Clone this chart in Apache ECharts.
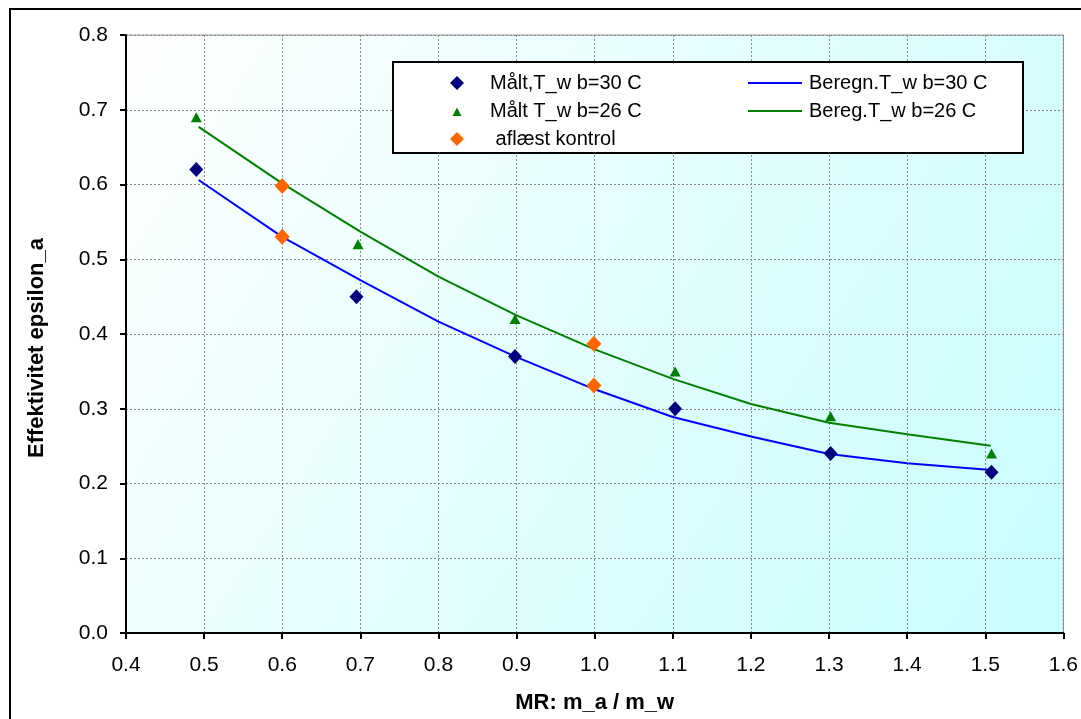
<!DOCTYPE html>
<html>
<head>
<meta charset="utf-8">
<script src="https://cdn.jsdelivr.net/npm/echarts@6/dist/echarts.min.js"></script>
<style>html,body{margin:0;padding:0;background:#fff;}#c{width:1081px;height:719px;}</style>
</head>
<body>
<div id="c"></div>
<script>
// Measured points
const maalt30 = [[0.49,0.62],[0.695,0.45],[0.898,0.37],[1.103,0.30],[1.302,0.24],[1.508,0.215]];
const maalt26 = [[0.49,0.69],[0.697,0.52],[0.898,0.42],[1.103,0.35],[1.302,0.29],[1.508,0.24]];
const aflaest = [[0.6,0.598],[0.6,0.53],[0.999,0.387],[0.999,0.331]];
// Calculated curves
const beregn30 = [[0.493,0.606],[0.6,0.530],[0.7,0.472],[0.8,0.4165],[0.9,0.369],[1.0,0.326],[1.1,0.289],[1.2,0.263],[1.3,0.2395],[1.4,0.227],[1.507,0.218]];
const bereg26 = [[0.493,0.677],[0.6,0.6016],[0.7,0.537],[0.8,0.4767],[0.9,0.425],[1.0,0.3795],[1.1,0.340],[1.2,0.3063],[1.3,0.2814],[1.4,0.2658],[1.507,0.2506]];
const seriesNames = ['Målt,T_w b=30 C','Målt T_w b=26 C',' aflæst kontrol','Beregn.T_w b=30 C','Bereg.T_w b=26 C'];

const FONT = 'Liberation Sans, Arial, sans-serif';
const chart = echarts.init(document.getElementById('c'), null, {renderer:'canvas'});
const legendText = {fontFamily: FONT, fontSize: 20, color:'#000', lineHeight: 20};
chart.setOption({
  animation: false,
  backgroundColor: '#ffffff',
  grid: {
    left: 126, top: 35, right: 16, bottom: 86,
    show: true,
    backgroundColor: {type:'linear', x:0, y:0, x2:1, y2:1,
      colorStops:[{offset:0,color:'#ffffff'},{offset:1,color:'#c8fdfd'}]},
    borderColor: '#909090', borderWidth: 1
  },
  xAxis: {
    type: 'value', min: 0.4, max: 1.6, interval: 0.1,
    name: 'MR: m_a / m_w', nameLocation: 'middle', nameGap: 59,
    nameTextStyle: {fontFamily: FONT, fontSize: 22, fontWeight: 'bold', color:'#000'},
    axisLine: {show: true, onZero: false, lineStyle: {color:'#000', width: 2}},
    axisTick: {show: true, length: 6, lineStyle: {color:'#000', width: 2}},
    axisLabel: {fontFamily: FONT, fontSize: 21, color:'#000', margin: 22,
      formatter: v => v.toFixed(1)},
    splitLine: {show: true, lineStyle: {color:'#888', type:[2,2], width:1}}
  },
  yAxis: {
    type: 'value', min: 0, max: 0.8, interval: 0.1,
    name: 'Effektivitet epsilon_a', nameLocation: 'middle', nameGap: 78,
    nameTextStyle: {fontFamily: FONT, fontSize: 22, fontWeight: 'bold', color:'#000', padding:[0,28,0,0]},
    axisLine: {show: true, onZero: false, lineStyle: {color:'#000', width: 2}},
    axisTick: {show: true, length: 6, lineStyle: {color:'#000', width: 2}},
    axisLabel: {fontFamily: FONT, fontSize: 21, color:'#000', margin: 18,
      formatter: v => v.toFixed(1)},
    splitLine: {show: true, lineStyle: {color:'#888', type:[2,2], width:1}}
  },
  legend: [
    {
      data: [
        {name: seriesNames[0]},
        {name: seriesNames[1], icon: 'path://M0 0 L0.01 0 M14 14 L14.01 14 M7 3.5 L11.5 12 L2.5 12 Z'},
        {name: seriesNames[2]}
      ],
      orient: 'vertical', left: 445, top: 68, itemGap: 8,
      itemWidth: 14, itemHeight: 14,
      textStyle: Object.assign({padding:[0,0,0,21]}, legendText),
      z: 10
    },
    {
      data: [
        {name: seriesNames[3], icon: 'rect'},
        {name: seriesNames[4], icon: 'rect'}
      ],
      orient: 'vertical', left: 743, top: 68, itemGap: 8,
      itemWidth: 54, itemHeight: 2,
      textStyle: Object.assign({padding:[0,0,0,2]}, legendText),
      z: 10
    }
  ],
  graphic: [
    {type:'rect', z: 5, silent: true, shape:{x:393, y:62, width:630, height:91},
     style:{fill:'#ffffff', stroke:'#000', lineWidth:2}},
    {type:'rect', z: 100, silent: true, shape:{x:10, y:9, width:1200, height:900},
     style:{fill:'none', stroke:'#000', lineWidth:2}}
  ],
  series: [
    {name: seriesNames[3], type:'line', data: beregn30, symbol:'none', smooth: false,
     lineStyle:{color:'#0000ff', width:2}, itemStyle:{color:'#0000ff'}, z: 2},
    {name: seriesNames[4], type:'line', data: bereg26, symbol:'none', smooth: false,
     lineStyle:{color:'#008000', width:2}, itemStyle:{color:'#008000'}, z: 2},
    {name: seriesNames[0], type:'scatter', data: maalt30, symbol:'diamond', symbolSize:[14,15],
     itemStyle:{color:'#000080', opacity:1}, z: 3},
    {name: seriesNames[1], type:'scatter', data: maalt26, symbol:'triangle', symbolSize:[11,10],
     itemStyle:{color:'#008000', opacity:1}, z: 3},
    {name: seriesNames[2], type:'scatter', data: aflaest, symbol:'diamond', symbolSize:[15,16],
     itemStyle:{color:'#ff6600', opacity:1}, z: 4}
  ]
});
</script>
</body>
</html>
